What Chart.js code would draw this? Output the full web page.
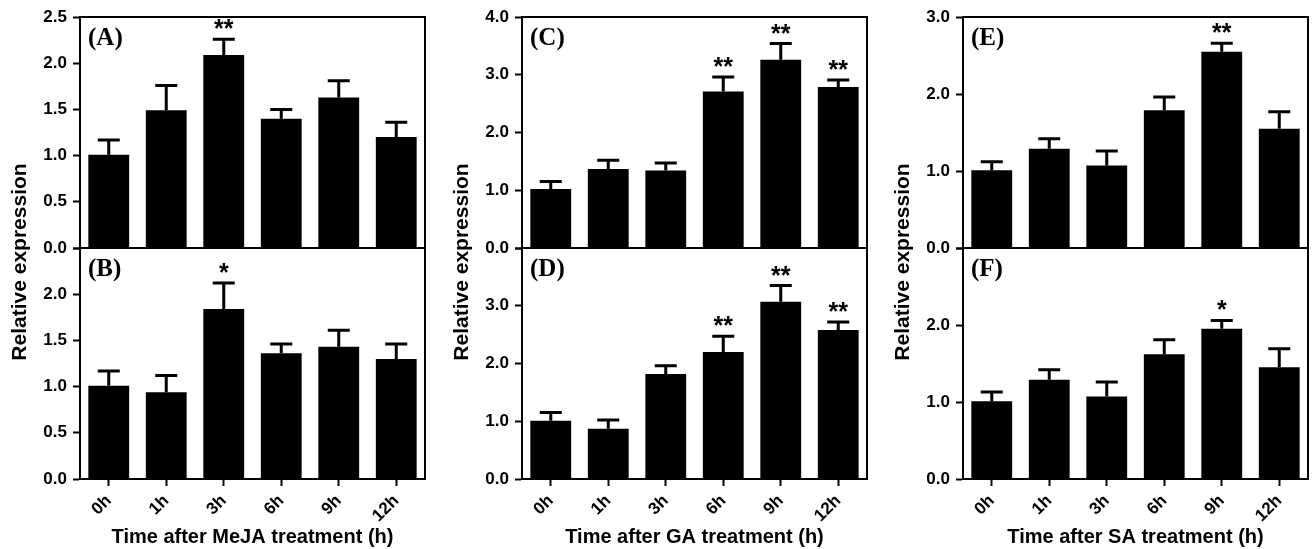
<!DOCTYPE html>
<html>
<head>
<meta charset="utf-8">
<script src="https://cdn.jsdelivr.net/npm/chart.js@4.4.0/dist/chart.umd.min.js"></script>
<style>
  html, body { margin: 0; padding: 0; background: #fff; }
  body { width: 1313px; height: 549px; position: relative; overflow: hidden; }
  .col { position: absolute; top: 0; height: 549px; }
</style>
</head>
<body>
<div class="col" style="left:0px;width:437px"><canvas id="c1" width="437" height="549"></canvas></div>
<div class="col" style="left:442px;width:437px"><canvas id="c2" width="437" height="549"></canvas></div>
<div class="col" style="left:883px;width:430px"><canvas id="c3" width="430" height="549"></canvas></div>
<script>
// Dados
const horas = ['0h', '1h', '3h', '6h', '9h', '12h'];

const mediaA = [1.01, 1.49, 2.09, 1.40, 1.63, 1.20];
const sdA    = [0.16, 0.27, 0.17, 0.10, 0.18, 0.16];
const sigA   = ['', '', '**', '', '', ''];

const mediaB = [1.01, 0.94, 1.84, 1.36, 1.43, 1.30];
const sdB    = [0.16, 0.18, 0.28, 0.10, 0.18, 0.16];
const sigB   = ['', '', '*', '', '', ''];

const mediaC = [1.02, 1.37, 1.34, 2.71, 3.26, 2.79];
const sdC    = [0.13, 0.15, 0.13, 0.25, 0.28, 0.12];
const sigC   = ['', '', '', '**', '**', '**'];

const mediaD = [1.01, 0.87, 1.82, 2.20, 3.07, 2.58];
const sdD    = [0.14, 0.15, 0.14, 0.27, 0.28, 0.14];
const sigD   = ['', '', '', '**', '**', '**'];

const mediaE = [1.01, 1.29, 1.07, 1.79, 2.55, 1.55];
const sdE    = [0.11, 0.13, 0.19, 0.17, 0.11, 0.22];
const sigE   = ['', '', '', '', '**', ''];

const mediaF = [1.01, 1.29, 1.07, 1.62, 1.95, 1.45];
const sdF    = [0.12, 0.13, 0.19, 0.19, 0.11, 0.24];
const sigF   = ['', '', '', '', '*', ''];

const SANS = "'Liberation Sans', Arial, sans-serif";
const SERIF = "'Liberation Serif', 'Times New Roman', serif";

// Molduras, barras de erro, asteriscos e rótulos dos painéis
const decorPlugin = {
  id: 'decor',
  afterDatasetsDraw(chart, args, opts) {
    const ctx = chart.ctx;
    const a = chart.chartArea;
    const yTop = chart.scales.yTop;
    const yBot = chart.scales.yBot;
    ctx.save();
    ctx.strokeStyle = '#000';
    ctx.fillStyle = '#000';

    chart.data.datasets.forEach((ds, i) => {
      const meta = chart.getDatasetMeta(i);
      const sc = chart.scales[ds.yAxisID];
      meta.data.forEach((bar, j) => {
        const yEnd = sc.getPixelForValue(ds.data[j] + ds.sd[j]);
        ctx.lineWidth = 3;
        ctx.beginPath();
        ctx.moveTo(bar.x, bar.y);
        ctx.lineTo(bar.x, yEnd);
        ctx.moveTo(bar.x - 11, yEnd);
        ctx.lineTo(bar.x + 11, yEnd);
        ctx.stroke();
        if (ds.sig[j]) {
          ctx.font = 'bold 25px ' + SANS;
          ctx.textAlign = 'center';
          ctx.textBaseline = 'alphabetic';
          ctx.fillText(ds.sig[j], bar.x, yEnd - 2);
        }
      });
    });

    // moldura e divisória
    ctx.lineWidth = 2;
    ctx.strokeRect(a.left, a.top, a.right - a.left, a.bottom - a.top);
    ctx.beginPath();
    ctx.moveTo(a.left, yTop.bottom);
    ctx.lineTo(a.right, yTop.bottom);
    ctx.stroke();

    // rótulos (A), (B)...
    ctx.font = 'bold 25px ' + SERIF;
    ctx.textAlign = 'left';
    ctx.textBaseline = 'middle';
    ctx.fillText(opts.labels[0], a.left + 8, yTop.top + 22);
    ctx.fillText(opts.labels[1], a.left + 8, yBot.top + 22);

    // título do eixo y
    ctx.translate(a.left - 60, 262);
    ctx.rotate(-Math.PI / 2);
    ctx.font = 'bold 21px ' + SANS;
    ctx.textAlign = 'center';
    ctx.fillText('Relative expression', 0, 0);
    ctx.restore();
  }
};

function eixoY(max, passo, esconderTopo) {
  return {
    type: 'linear',
    position: 'left',
    stack: 'coluna',
    stackWeight: 1,
    min: 0,
    max: max,
    ticks: {
      stepSize: passo,
      color: '#000',
      padding: 6,
      font: { family: SANS, size: 17, weight: 'bold' },
      callback: v => (esconderTopo && v === max) ? '' : v.toFixed(1)
    },
    grid: { drawOnChartArea: false, drawTicks: true, tickLength: 7, tickWidth: 2, tickColor: '#000' },
    border: { display: true, color: '#000', width: 2 },
    afterFit: s => { s.width = 80; }
  };
}

function criarColuna(id, cfg) {
  const ctx = document.getElementById(id).getContext('2d');
  return new Chart(ctx, {
    type: 'bar',
    data: {
      labels: horas,
      datasets: [
        {
          data: cfg.topo, sd: cfg.sdTopo, sig: cfg.sigTopo, yAxisID: 'yTop',
          backgroundColor: '#000', borderWidth: 0, grouped: false,
          barPercentage: 0.71, categoryPercentage: 1
        },
        {
          data: cfg.base, sd: cfg.sdBase, sig: cfg.sigBase, yAxisID: 'yBot',
          backgroundColor: '#000', borderWidth: 0, grouped: false,
          barPercentage: 0.71, categoryPercentage: 1
        }
      ]
    },
    options: {
      responsive: false,
      animation: false,
      events: [],
      layout: { padding: { left: 0, right: cfg.padDir, top: 17, bottom: 0 } },
      scales: {
        x: {
          type: 'category',
          offset: true,
          grid: { offset: false, drawOnChartArea: false, drawTicks: true, tickLength: 7, tickWidth: 2, tickColor: '#000' },
          border: { display: true, color: '#000', width: 2 },
          ticks: {
            color: '#000',
            autoSkip: false,
            maxRotation: 45,
            minRotation: 45,
            padding: 5,
            font: { family: SANS, size: 17, weight: 'bold' }
          },
          title: {
            display: true,
            text: cfg.tituloX,
            color: '#000',
            padding: 0,
            font: { family: SANS, size: 20, weight: 'bold' }
          },
          afterFit: s => { s.height = 70; }
        },
        yBot: eixoY(cfg.max, cfg.passo, true),
        yTop: eixoY(cfg.max, cfg.passo, false)
      },
      plugins: {
        legend: { display: false },
        tooltip: { enabled: false },
        decor: { labels: cfg.rotulos }
      }
    },
    plugins: [decorPlugin]
  });
}

criarColuna('c1', {
  topo: mediaA, sdTopo: sdA, sigTopo: sigA,
  base: mediaB, sdBase: sdB, sigBase: sigB,
  max: 2.5, passo: 0.5, padDir: 12,
  rotulos: ['(A)', '(B)'],
  tituloX: 'Time after MeJA treatment (h)'
});
criarColuna('c2', {
  topo: mediaC, sdTopo: sdC, sigTopo: sigC,
  base: mediaD, sdBase: sdD, sigBase: sigD,
  max: 4, passo: 1, padDir: 12,
  rotulos: ['(C)', '(D)'],
  tituloX: 'Time after GA treatment (h)'
});
criarColuna('c3', {
  topo: mediaE, sdTopo: sdE, sigTopo: sigE,
  base: mediaF, sdBase: sdF, sigBase: sigF,
  max: 3, passo: 1, padDir: 5,
  rotulos: ['(E)', '(F)'],
  tituloX: 'Time after SA treatment (h)'
});
</script>
</body>
</html>
